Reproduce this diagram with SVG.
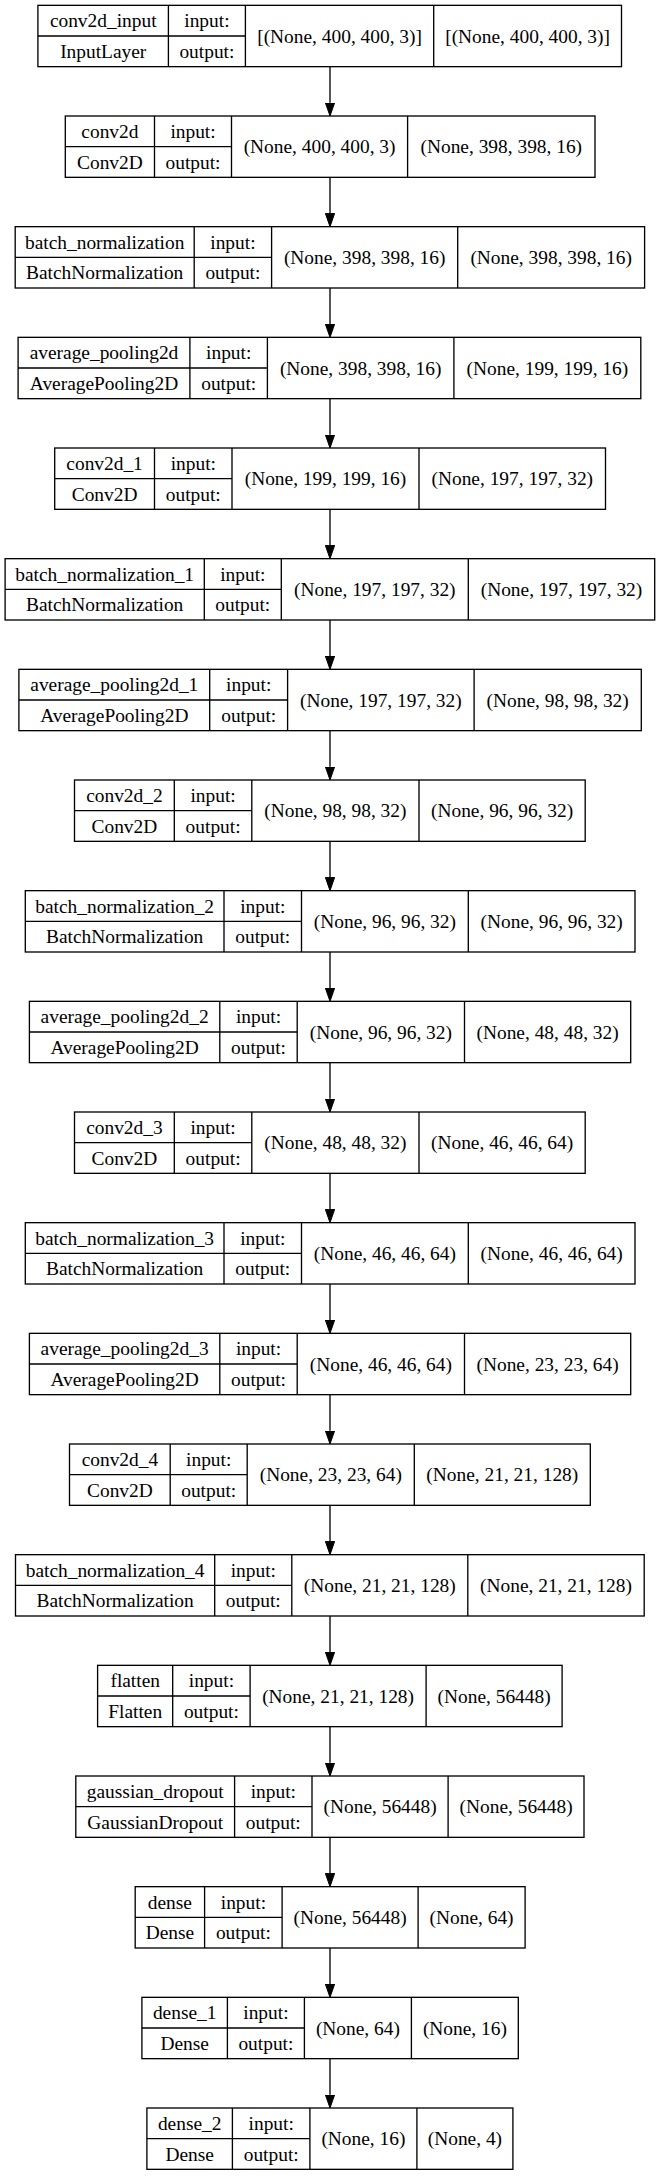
<svg xmlns="http://www.w3.org/2000/svg" width="660" height="2176" viewBox="0 0 660 2176">
<style>
.b{fill:#fff;stroke:#000;stroke-width:1.33}
.l{stroke:#000;stroke-width:1.33;fill:none}
.t text{font-size:19.4px;fill:#000;text-anchor:middle}
.e{stroke:#000;stroke-width:1.33;fill:none}
</style>
<defs>
<marker id="ah" markerUnits="userSpaceOnUse" markerWidth="14" markerHeight="10" refX="0" refY="4.67" orient="auto" viewBox="0 0 14 10">
<path d="M0,0 L13.33,4.67 L0,9.33 z" fill="#000" stroke="#000" stroke-width="1"/>
</marker>
</defs>
<rect width="660" height="2176" fill="#fff"/>
<g id="connectors">
<line class="e" x1="330" y1="66.67" x2="330" y2="102.67" marker-end="url(#ah)"/>
<line class="e" x1="330" y1="177.33" x2="330" y2="213.33" marker-end="url(#ah)"/>
<line class="e" x1="330" y1="288.00" x2="330" y2="324.00" marker-end="url(#ah)"/>
<line class="e" x1="330" y1="398.67" x2="330" y2="434.67" marker-end="url(#ah)"/>
<line class="e" x1="330" y1="509.33" x2="330" y2="545.33" marker-end="url(#ah)"/>
<line class="e" x1="330" y1="620.00" x2="330" y2="656.00" marker-end="url(#ah)"/>
<line class="e" x1="330" y1="730.67" x2="330" y2="766.67" marker-end="url(#ah)"/>
<line class="e" x1="330" y1="841.33" x2="330" y2="877.33" marker-end="url(#ah)"/>
<line class="e" x1="330" y1="952.00" x2="330" y2="988.00" marker-end="url(#ah)"/>
<line class="e" x1="330" y1="1062.67" x2="330" y2="1098.67" marker-end="url(#ah)"/>
<line class="e" x1="330" y1="1173.33" x2="330" y2="1209.33" marker-end="url(#ah)"/>
<line class="e" x1="330" y1="1284.00" x2="330" y2="1320.00" marker-end="url(#ah)"/>
<line class="e" x1="330" y1="1394.67" x2="330" y2="1430.67" marker-end="url(#ah)"/>
<line class="e" x1="330" y1="1505.33" x2="330" y2="1541.33" marker-end="url(#ah)"/>
<line class="e" x1="330" y1="1616.00" x2="330" y2="1652.00" marker-end="url(#ah)"/>
<line class="e" x1="330" y1="1726.67" x2="330" y2="1762.67" marker-end="url(#ah)"/>
<line class="e" x1="330" y1="1837.33" x2="330" y2="1873.33" marker-end="url(#ah)"/>
<line class="e" x1="330" y1="1948.00" x2="330" y2="1984.00" marker-end="url(#ah)"/>
<line class="e" x1="330" y1="2058.67" x2="330" y2="2094.67" marker-end="url(#ah)"/>
</g>
<g class="t" font-family="'Liberation Serif', Tinos, 'Times New Roman', serif">

<g id="conv2d_input" transform="translate(0,5.33)">
<rect class="b" x="37.9" y="0" width="583.6" height="61.33"/>
<path class="l" d="M168.4,0V61.33M245.4,0V61.33M433.7,0V61.33M37.9,30.67H245.4"/>
<text x="103.2" y="22">conv2d_input</text>
<text x="103.2" y="52.7">InputLayer</text>
<text x="206.9" y="22">input:</text>
<text x="206.9" y="52.7">output:</text>
<text x="339.6" y="37.4">[(None, 400, 400, 3)]</text>
<text x="527.6" y="37.4">[(None, 400, 400, 3)]</text>
</g>

<g id="conv2d" transform="translate(0,116)">
<rect class="b" x="65.3" y="0" width="529.7" height="61.33"/>
<path class="l" d="M154.5,0V61.33M231.5,0V61.33M407.6,0V61.33M65.3,30.67H231.5"/>
<text x="109.9" y="22">conv2d</text>
<text x="109.9" y="52.7">Conv2D</text>
<text x="193" y="22">input:</text>
<text x="193" y="52.7">output:</text>
<text x="319.6" y="37.4">(None, 400, 400, 3)</text>
<text x="501.3" y="37.4">(None, 398, 398, 16)</text>
</g>

<g id="batch_normalization" transform="translate(0,226.67)">
<rect class="b" x="15.2" y="0" width="629.4" height="61.33"/>
<path class="l" d="M194.2,0V61.33M271.6,0V61.33M457.7,0V61.33M15.2,30.67H271.6"/>
<text x="104.7" y="22">batch_normalization</text>
<text x="104.7" y="52.7">BatchNormalization</text>
<text x="232.9" y="22">input:</text>
<text x="232.9" y="52.7">output:</text>
<text x="364.7" y="37.4">(None, 398, 398, 16)</text>
<text x="551.2" y="37.4">(None, 398, 398, 16)</text>
</g>

<g id="average_pooling2d" transform="translate(0,337.33)">
<rect class="b" x="18.1" y="0" width="622.7" height="61.33"/>
<path class="l" d="M189.9,0V61.33M267.4,0V61.33M453.9,0V61.33M18.1,30.67H267.4"/>
<text x="104" y="22">average_pooling2d</text>
<text x="104" y="52.7">AveragePooling2D</text>
<text x="228.7" y="22">input:</text>
<text x="228.7" y="52.7">output:</text>
<text x="360.7" y="37.4">(None, 398, 398, 16)</text>
<text x="547.4" y="37.4">(None, 199, 199, 16)</text>
</g>

<g id="conv2d_1" transform="translate(0,448)">
<rect class="b" x="54.7" y="0" width="550.8" height="61.33"/>
<path class="l" d="M154.5,0V61.33M232,0V61.33M419,0V61.33M54.7,30.67H232"/>
<text x="104.6" y="22">conv2d_1</text>
<text x="104.6" y="52.7">Conv2D</text>
<text x="193.3" y="22">input:</text>
<text x="193.3" y="52.7">output:</text>
<text x="325.5" y="37.4">(None, 199, 199, 16)</text>
<text x="512.3" y="37.4">(None, 197, 197, 32)</text>
</g>

<g id="batch_normalization_1" transform="translate(0,558.67)">
<rect class="b" x="5.1" y="0" width="649.6" height="61.33"/>
<path class="l" d="M204.3,0V61.33M281.3,0V61.33M468.3,0V61.33M5.1,30.67H281.3"/>
<text x="104.7" y="22">batch_normalization_1</text>
<text x="104.7" y="52.7">BatchNormalization</text>
<text x="242.8" y="22">input:</text>
<text x="242.8" y="52.7">output:</text>
<text x="374.8" y="37.4">(None, 197, 197, 32)</text>
<text x="561.5" y="37.4">(None, 197, 197, 32)</text>
</g>

<g id="average_pooling2d_1" transform="translate(0,669.33)">
<rect class="b" x="18.9" y="0" width="622.4" height="61.33"/>
<path class="l" d="M209.7,0V61.33M287.6,0V61.33M474.1,0V61.33M18.9,30.67H287.6"/>
<text x="114.3" y="22">average_pooling2d_1</text>
<text x="114.3" y="52.7">AveragePooling2D</text>
<text x="248.7" y="22">input:</text>
<text x="248.7" y="52.7">output:</text>
<text x="380.9" y="37.4">(None, 197, 197, 32)</text>
<text x="557.7" y="37.4">(None, 98, 98, 32)</text>
</g>

<g id="conv2d_2" transform="translate(0,780)">
<rect class="b" x="74.5" y="0" width="510.7" height="61.33"/>
<path class="l" d="M174.3,0V61.33M251.8,0V61.33M419,0V61.33M74.5,30.67H251.8"/>
<text x="124.4" y="22">conv2d_2</text>
<text x="124.4" y="52.7">Conv2D</text>
<text x="213.1" y="22">input:</text>
<text x="213.1" y="52.7">output:</text>
<text x="335.4" y="37.4">(None, 98, 98, 32)</text>
<text x="502.1" y="37.4">(None, 96, 96, 32)</text>
</g>

<g id="batch_normalization_2" transform="translate(0,890.67)">
<rect class="b" x="25.3" y="0" width="609.7" height="61.33"/>
<path class="l" d="M224,0V61.33M301.5,0V61.33M468.3,0V61.33M25.3,30.67H301.5"/>
<text x="124.7" y="22">batch_normalization_2</text>
<text x="124.7" y="52.7">BatchNormalization</text>
<text x="262.8" y="22">input:</text>
<text x="262.8" y="52.7">output:</text>
<text x="384.9" y="37.4">(None, 96, 96, 32)</text>
<text x="551.7" y="37.4">(None, 96, 96, 32)</text>
</g>

<g id="average_pooling2d_2" transform="translate(0,1001.33)">
<rect class="b" x="29.4" y="0" width="601.3" height="61.33"/>
<path class="l" d="M219.8,0V61.33M297.2,0V61.33M464.5,0V61.33M29.4,30.67H297.2"/>
<text x="124.6" y="22">average_pooling2d_2</text>
<text x="124.6" y="52.7">AveragePooling2D</text>
<text x="258.5" y="22">input:</text>
<text x="258.5" y="52.7">output:</text>
<text x="380.9" y="37.4">(None, 96, 96, 32)</text>
<text x="547.6" y="37.4">(None, 48, 48, 32)</text>
</g>

<g id="conv2d_3" transform="translate(0,1112)">
<rect class="b" x="74.5" y="0" width="510.7" height="61.33"/>
<path class="l" d="M174.3,0V61.33M251.8,0V61.33M419,0V61.33M74.5,30.67H251.8"/>
<text x="124.4" y="22">conv2d_3</text>
<text x="124.4" y="52.7">Conv2D</text>
<text x="213.1" y="22">input:</text>
<text x="213.1" y="52.7">output:</text>
<text x="335.4" y="37.4">(None, 48, 48, 32)</text>
<text x="502.1" y="37.4">(None, 46, 46, 64)</text>
</g>

<g id="batch_normalization_3" transform="translate(0,1222.67)">
<rect class="b" x="25.3" y="0" width="609.7" height="61.33"/>
<path class="l" d="M224,0V61.33M301.5,0V61.33M468.3,0V61.33M25.3,30.67H301.5"/>
<text x="124.7" y="22">batch_normalization_3</text>
<text x="124.7" y="52.7">BatchNormalization</text>
<text x="262.8" y="22">input:</text>
<text x="262.8" y="52.7">output:</text>
<text x="384.9" y="37.4">(None, 46, 46, 64)</text>
<text x="551.7" y="37.4">(None, 46, 46, 64)</text>
</g>

<g id="average_pooling2d_3" transform="translate(0,1333.33)">
<rect class="b" x="29.4" y="0" width="601.3" height="61.33"/>
<path class="l" d="M219.8,0V61.33M297.2,0V61.33M464.5,0V61.33M29.4,30.67H297.2"/>
<text x="124.6" y="22">average_pooling2d_3</text>
<text x="124.6" y="52.7">AveragePooling2D</text>
<text x="258.5" y="22">input:</text>
<text x="258.5" y="52.7">output:</text>
<text x="380.9" y="37.4">(None, 46, 46, 64)</text>
<text x="547.6" y="37.4">(None, 23, 23, 64)</text>
</g>

<g id="conv2d_4" transform="translate(0,1444)">
<rect class="b" x="69.5" y="0" width="520.8" height="61.33"/>
<path class="l" d="M170.2,0V61.33M247.2,0V61.33M414.3,0V61.33M69.5,30.67H247.2"/>
<text x="119.9" y="22">conv2d_4</text>
<text x="119.9" y="52.7">Conv2D</text>
<text x="208.7" y="22">input:</text>
<text x="208.7" y="52.7">output:</text>
<text x="330.8" y="37.4">(None, 23, 23, 64)</text>
<text x="502.3" y="37.4">(None, 21, 21, 128)</text>
</g>

<g id="batch_normalization_4" transform="translate(0,1554.67)">
<rect class="b" x="15.5" y="0" width="628.7" height="61.33"/>
<path class="l" d="M214.7,0V61.33M291.8,0V61.33M467.8,0V61.33M15.5,30.67H291.8"/>
<text x="115.1" y="22">batch_normalization_4</text>
<text x="115.1" y="52.7">BatchNormalization</text>
<text x="253.3" y="22">input:</text>
<text x="253.3" y="52.7">output:</text>
<text x="379.8" y="37.4">(None, 21, 21, 128)</text>
<text x="556" y="37.4">(None, 21, 21, 128)</text>
</g>

<g id="flatten" transform="translate(0,1665.33)">
<rect class="b" x="97.6" y="0" width="464.5" height="61.33"/>
<path class="l" d="M172.7,0V61.33M250.1,0V61.33M426.1,0V61.33M97.6,30.67H250.1"/>
<text x="135.2" y="22">flatten</text>
<text x="135.2" y="52.7">Flatten</text>
<text x="211.4" y="22">input:</text>
<text x="211.4" y="52.7">output:</text>
<text x="338.1" y="37.4">(None, 21, 21, 128)</text>
<text x="494.1" y="37.4">(None, 56448)</text>
</g>

<g id="gaussian_dropout" transform="translate(0,1776)">
<rect class="b" x="75.8" y="0" width="508.2" height="61.33"/>
<path class="l" d="M234.6,0V61.33M312,0V61.33M448.1,0V61.33M75.8,30.67H312"/>
<text x="155.2" y="22">gaussian_dropout</text>
<text x="155.2" y="52.7">GaussianDropout</text>
<text x="273.3" y="22">input:</text>
<text x="273.3" y="52.7">output:</text>
<text x="380.1" y="37.4">(None, 56448)</text>
<text x="516.1" y="37.4">(None, 56448)</text>
</g>

<g id="dense" transform="translate(0,1886.67)">
<rect class="b" x="135.2" y="0" width="389.9" height="61.33"/>
<path class="l" d="M204.6,0V61.33M282.1,0V61.33M418.1,0V61.33M135.2,30.67H282.1"/>
<text x="169.9" y="22">dense</text>
<text x="169.9" y="52.7">Dense</text>
<text x="243.4" y="22">input:</text>
<text x="243.4" y="52.7">output:</text>
<text x="350.1" y="37.4">(None, 56448)</text>
<text x="471.6" y="37.4">(None, 64)</text>
</g>

<g id="dense_1" transform="translate(0,1997.33)">
<rect class="b" x="141.9" y="0" width="376.4" height="61.33"/>
<path class="l" d="M227.4,0V61.33M304.4,0V61.33M411.4,0V61.33M141.9,30.67H304.4"/>
<text x="184.7" y="22">dense_1</text>
<text x="184.7" y="52.7">Dense</text>
<text x="265.9" y="22">input:</text>
<text x="265.9" y="52.7">output:</text>
<text x="357.9" y="37.4">(None, 64)</text>
<text x="464.9" y="37.4">(None, 16)</text>
</g>

<g id="dense_2" transform="translate(0,2108)">
<rect class="b" x="146.9" y="0" width="366" height="61.33"/>
<path class="l" d="M232.4,0V61.33M309.9,0V61.33M416.9,0V61.33M146.9,30.67H309.9"/>
<text x="189.7" y="22">dense_2</text>
<text x="189.7" y="52.7">Dense</text>
<text x="271.2" y="22">input:</text>
<text x="271.2" y="52.7">output:</text>
<text x="363.4" y="37.4">(None, 16)</text>
<text x="464.9" y="37.4">(None, 4)</text>
</g>
</g>
</svg>
